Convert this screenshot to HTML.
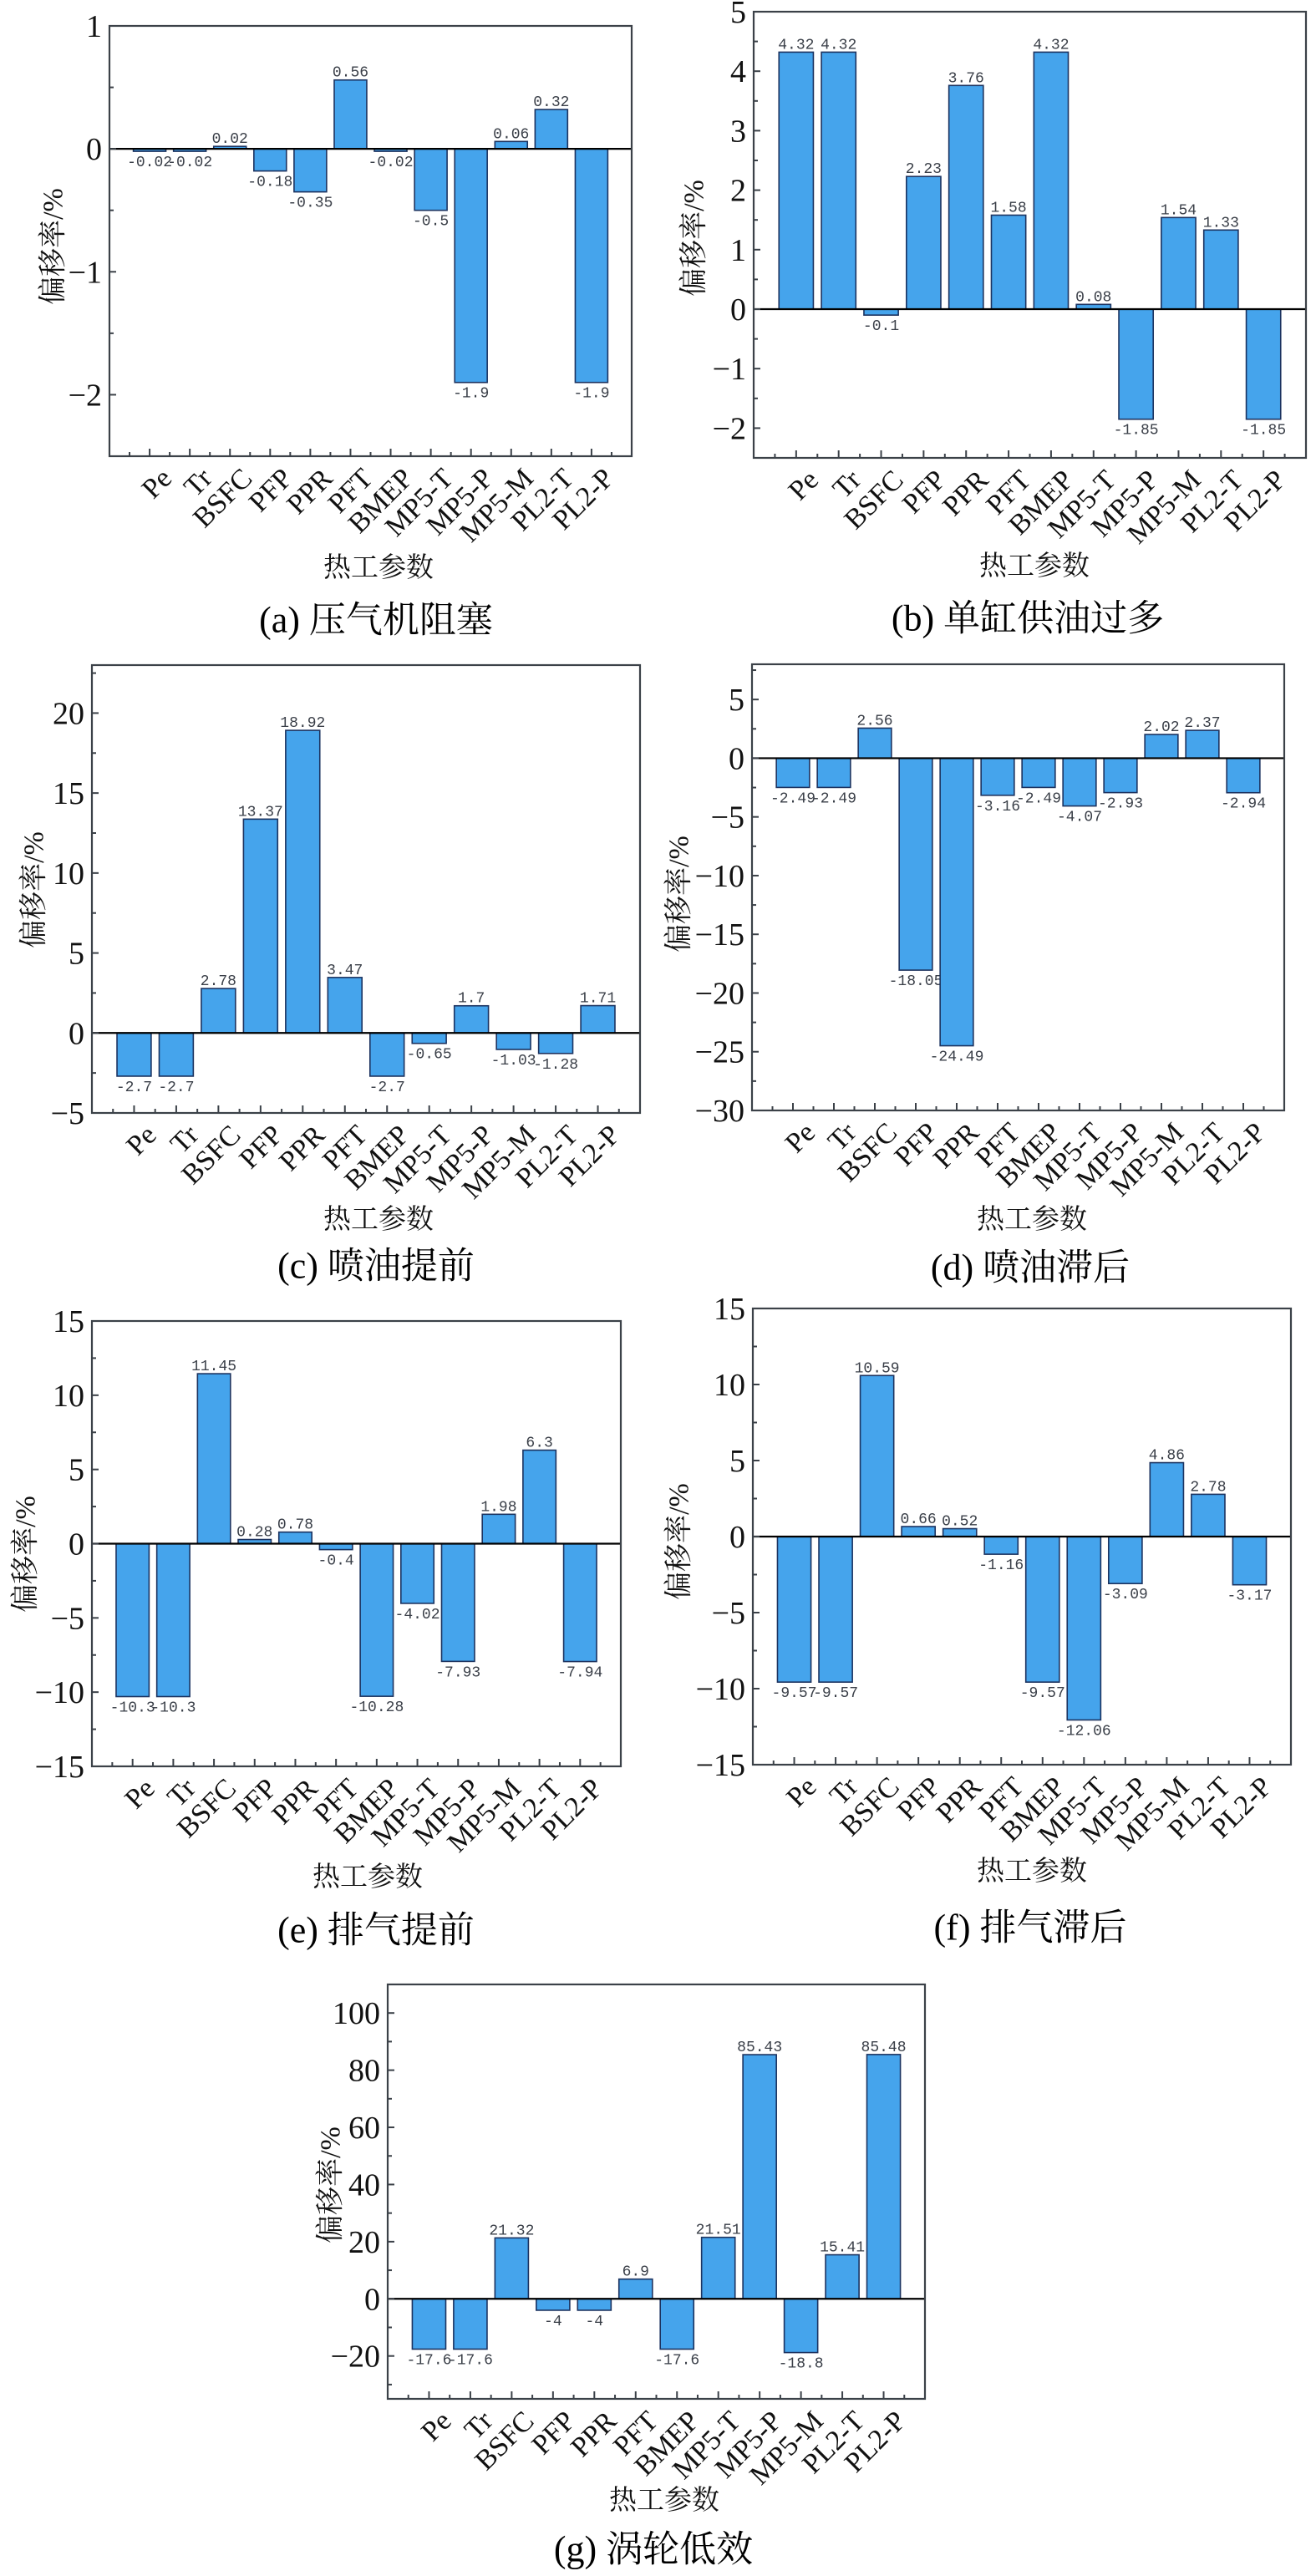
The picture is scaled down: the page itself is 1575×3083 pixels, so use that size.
<!DOCTYPE html>
<html><head><meta charset="utf-8">
<style>
html,body{margin:0;padding:0;background:#fff;}
#wrap{position:relative;width:1575px;height:3083px;overflow:hidden;background:#fff;}
svg text{font-family:"Liberation Serif","Noto Serif CJK SC",serif;}
.val{font-family:"Liberation Mono","Noto Sans CJK SC",monospace;font-size:18px;fill:#3a3f48;}
</style></head>
<body>
<div id="wrap">
<svg id="fig" width="1575" height="3083" viewBox="0 0 1575 3083" xmlns="http://www.w3.org/2000/svg"></svg>
</div>
<script>
const categories = ["Pe","Tr","BSFC","PFP","PPR","PFT","BMEP","MP5-T","MP5-P","MP5-M","PL2-T","PL2-P"];
const valuesA = [-0.02,-0.02,0.02,-0.18,-0.35,0.56,-0.02,-0.5,-1.9,0.06,0.32,-1.9];
const valuesB = [4.32,4.32,-0.1,2.23,3.76,1.58,4.32,0.08,-1.85,1.54,1.33,-1.85];
const valuesC = [-2.7,-2.7,2.78,13.37,18.92,3.47,-2.7,-0.65,1.7,-1.03,-1.28,1.71];
const valuesD = [-2.49,-2.49,2.56,-18.05,-24.49,-3.16,-2.49,-4.07,-2.93,2.02,2.37,-2.94];
const valuesE = [-10.3,-10.3,11.45,0.28,0.78,-0.4,-10.28,-4.02,-7.93,1.98,6.3,-7.94];
const valuesF = [-9.57,-9.57,10.59,0.66,0.52,-1.16,-9.57,-12.06,-3.09,4.86,2.78,-3.17];
const valuesG = [-17.6,-17.6,21.32,-4,-4,6.9,-17.6,21.51,85.43,-18.8,15.41,85.48];
const ticksA = [-2,-1,0,1];
const ticksB = [-2,-1,0,1,2,3,4,5];
const ticksC = [-5,0,5,10,15,20];
const ticksD = [-30,-25,-20,-15,-10,-5,0,5];
const ticksE = [-15,-10,-5,0,5,10,15];
const ticksF = [-15,-10,-5,0,5,10,15];
const ticksG = [-20,0,20,40,60,80,100];
const domainA = [-2.5,1], domainB = [-2.5,5], domainC = [-5,23], domainD = [-30,8];
const domainE = [-15,15], domainF = [-15,15], domainG = [-35,110];
const minorA = 0.5, minorB = 0.5, minorC = 2.5, minorD = 2.5, minorE = 2.5, minorF = 2.5, minorG = 10;
const captionA = "(a) 压气机阻塞", captionB = "(b) 单缸供油过多", captionC = "(c) 喷油提前",
      captionD = "(d) 喷油滞后", captionE = "(e) 排气提前", captionF = "(f) 排气滞后", captionG = "(g) 涡轮低效";

const NS = "http://www.w3.org/2000/svg";
const svg = document.getElementById('fig');
function mk(tag, attrs, parent){
  const e = document.createElementNS(NS, tag);
  for (const k in attrs) e.setAttribute(k, attrs[k]);
  (parent||svg).appendChild(e);
  return e;
}
function fmt(v){ return (v<0?"-":"") + String(Math.abs(v)); }

function panel(id, L, R, T, B, domain, vals, ticks, minor, yt, xl, cap){
  const g = mk('g', {});
  
  
  const y = v => T + (domain[1]-v)/(domain[1]-domain[0])*(B-T);
  const n = categories.length;
  const step = (R-L)/(n+1);
  const x = i => L + (i+1)*step;
  const bw = step*0.81;
  vals.forEach((v,i)=>{
    const y0 = y(0), yv = y(v);
    const r = mk('rect', {x:x(i)-bw/2, y:Math.min(y0,yv), width:bw, height:Math.max(1.5,Math.abs(yv-y0)), fill:'#45a4ec', stroke:'#1c3360', 'stroke-width':1.6}, g);
    
    
    const t = mk('text', {x:x(i), y: v>=0 ? yv-4 : yv+18, 'text-anchor':'middle', class:'val'}, g);
    t.textContent = fmt(v);
    
    
  });
  const z = mk('line', {x1:L, x2:R, y1:y(0), y2:y(0), stroke:'#000', 'stroke-width':2.2}, g);
  
  
  const f = mk('rect', {x:L, y:T, width:R-L, height:B-T, fill:'none', stroke:'#3b4148', 'stroke-width':2.2}, g);
  
  
  for (let v = Math.ceil(domain[0]/minor)*minor; v <= domain[1]+1e-9; v += minor){
    const isMajor = ticks.some(t=>Math.abs(t-v)<1e-9);
    mk('line', {x1:L, x2:L+(isMajor?8:5), y1:y(v), y2:y(v), stroke:'#3b4148', 'stroke-width':2}, g);
  }
  ticks.forEach(v=>{
    const t = mk('text', {x:L-9, y:y(v)+13, 'text-anchor':'end', 'font-size':38, fill:'#111'}, g);
    t.textContent = v<0 ? '\u2212'+Math.abs(v) : String(v);
    
    
  });
  for (let i=0;i<n;i++){
    mk('line', {x1:x(i), x2:x(i), y1:B, y2:B-9, stroke:'#3b4148', 'stroke-width':2}, g);
    mk('line', {x1:x(i)+step/2, x2:x(i)+step/2, y1:B, y2:B-5, stroke:'#3b4148', 'stroke-width':2}, g);
    if (i===0) mk('line', {x1:x(i)-step/2, x2:x(i)-step/2, y1:B, y2:B-5, stroke:'#3b4148', 'stroke-width':2}, g);
    const ax = x(i)+12, ay = B+12;
    const t = mk('text', {x:ax, y:ay, 'text-anchor':'end', 'dominant-baseline':'hanging', 'font-size':34, fill:'#111', transform:`rotate(-45 ${ax} ${ay})`}, g);
    t.textContent = categories[i];
    
    
  }
  const ytl = mk('text', {x:yt[0], y:yt[1], 'text-anchor':'middle', 'dominant-baseline':'central', 'font-size':34, fill:'#111', transform:`rotate(-90 ${yt[0]} ${yt[1]})`}, g);
  ytl.textContent = '偏移率/%';
  
  
  const xlt = mk('text', {x:xl[0], y:xl[1], 'text-anchor':'middle', 'dominant-baseline':'central', 'font-size':33, fill:'#111'}, g);
  xlt.textContent = '热工参数';
  
  
  const ct = mk('text', {x:cap[0], y:cap[1], 'text-anchor':'middle', 'dominant-baseline':'central', 'font-size':44, fill:'#000'}, g);
  ct.textContent = cap[2];
  
  
}

panel('a', 131, 756, 31, 546, domainA, valuesA, ticksA, minorA, [64,295], [453,680], [450,742,captionA]);
panel('b', 902, 1563, 14, 548, domainB, valuesB, ticksB, minorB, [831,285], [1238,678], [1230,740,captionB]);
panel('c', 110, 766, 796, 1332, domainC, valuesC, ticksC, minorC, [41,1065], [453,1460], [450,1515,captionC]);
panel('d', 900, 1537, 795, 1329, domainD, valuesD, ticksD, minorD, [813,1070], [1235,1460], [1233,1517,captionD]);
panel('e', 110, 743, 1581, 2114, domainE, valuesE, ticksE, minorE, [31,1860], [440,2247], [450,2310,captionE]);
panel('f', 901, 1545, 1566, 2112, domainF, valuesF, ticksF, minorF, [813,1845], [1235,2240], [1233,2307,captionF]);
panel('g', 464, 1107, 2375, 2871, domainG, valuesG, ticksG, minorG, [396,2615], [795,2993], [782,3051,captionG]);
</script>
</body></html>
